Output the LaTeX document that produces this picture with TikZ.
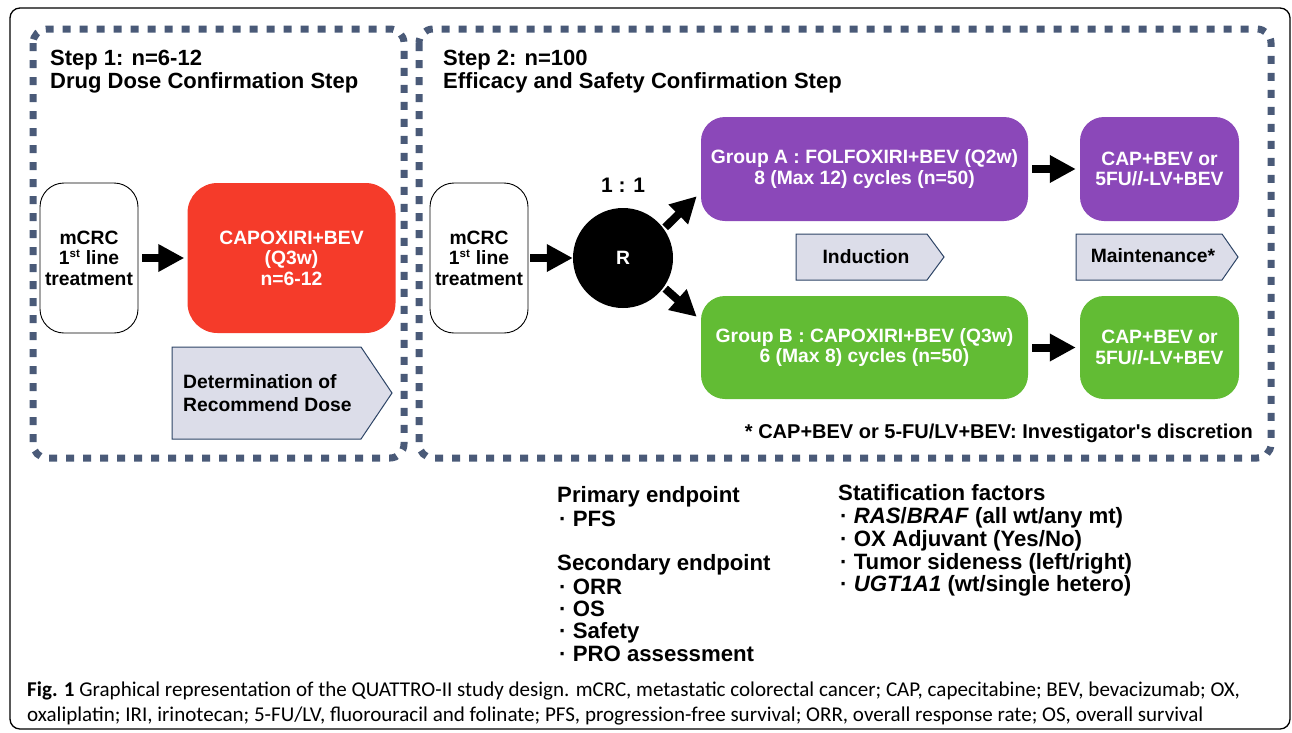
\documentclass[tikz,border=0pt]{standalone}
\usepackage{fontspec}
\setmainfont{Liberation Sans}
\newfontfamily\capfont{Carlito}
\usetikzlibrary{arrows.meta,calc}
\definecolor{dashc}{RGB}{74,90,120}
\definecolor{redc}{RGB}{245,59,42}
\definecolor{purc}{RGB}{139,72,185}
\definecolor{grnc}{RGB}{98,188,52}
\definecolor{lavc}{RGB}{220,221,233}
\definecolor{lavb}{RGB}{45,68,102}
\newcommand\mysts{\textsuperscript{\fontsize{11.5}{11.5}\selectfont st}}
\begin{document}
\begin{tikzpicture}[x=1pt,y=-1pt,
  frame/.style={draw=black,line width=1.3pt,rounded corners=10pt},
  dashbox/.style={draw=dashc,line width=7pt,dash pattern=on 8pt off 9pt,rounded corners=14pt},
  boxfont/.style={font=\fontsize{19.3}{20.5}\selectfont\bfseries},
  whitebox/.style={boxfont,draw=black,line width=0.9pt,fill=white,rounded corners=24pt,
     minimum width=98pt,minimum height=150pt,align=center,inner sep=0pt},
  colbox/.style={boxfont,text=white,rounded corners=24pt,align=center,inner sep=0pt},
  pent/.style={draw=lavb,fill=lavc,line width=1pt},
  blk/.style={line width=8pt,-{Triangle[length=26pt,width=26pt]}},
  steptext/.style={anchor=base west,font=\fontsize{22}{23}\selectfont\bfseries,inner sep=0pt},
  lowtext/.style={anchor=base west,font=\fontsize{22.2}{23}\selectfont\bfseries,inner sep=0pt},
  captext/.style={anchor=base west,font=\capfont\fontsize{21.05}{24}\selectfont,inner sep=0pt}
]
\useasboundingbox (0,0) rectangle (1292,732);
% outer frame
\draw[frame] (10,8) rectangle (1290,729);
% dashed step boxes
\draw[dashbox] (33,29) rectangle (404,458);
\draw[dashbox] (419,29) rectangle (1271,458);
% step titles
\node[steptext] (s1a) at (50,65) {Step 1: n=6-12};
\node[steptext] (s1b) at (50,88) {Drug Dose Confirmation Step};
\node[steptext] (s2a) at (443,65) {Step 2: n=100};
\node[steptext] (s2b) at (443,88) {Efficacy and Safety Confirmation Step};
% step 1
\node[whitebox] (m1) at (89,258) {mCRC\\1\mysts\ line\\treatment};
\node[colbox,fill=redc,minimum width=208pt,minimum height=150pt,rounded corners=30pt] (cap) at (291.5,258) {CAPOXIRI+BEV\\(Q3w)\\n=6-12};
\draw[blk] ([xshift=4pt]m1.east) -- ([xshift=-3pt]cap.west);
\draw[pent] (172,347) -- (361,347) -- (392,393) -- (361,439) -- (172,439) -- cycle;
\node[anchor=west,align=left,font=\fontsize{19.3}{23}\selectfont\bfseries,inner sep=0pt] (det) at (183,393) {Determination of\\Recommend Dose};
% step 2
\node[whitebox] (m2) at (479,258) {mCRC\\1\mysts\ line\\treatment};
\node[circle,fill=black,minimum size=100pt,inner sep=0pt,text=white,boxfont] (R) at (623,258) {R};
\node[font=\fontsize{21}{23}\selectfont\bfseries,inner sep=0pt] (ratio) at (623,185) {1 : 1};
\draw[blk] ([xshift=2pt]m2.east) -- (R.west);
\node[colbox,fill=purc,minimum width=327pt,minimum height=104pt] (gA) at (864.5,169) {Group A : FOLFOXIRI+BEV (Q2w)\\8 (Max 12) cycles (n=50)};
\node[colbox,fill=purc,minimum width=159pt,minimum height=104pt] (mA) at (1159.5,169) {CAP+BEV or\\5FU/\textit{l}-LV+BEV};
\node[colbox,fill=grnc,minimum width=327pt,minimum height=103pt] (gB) at (864.5,347.5) {Group B : CAPOXIRI+BEV (Q3w)\\6 (Max 8) cycles (n=50)};
\node[colbox,fill=grnc,minimum width=159pt,minimum height=103pt] (mB) at (1159.5,347.5) {CAP+BEV or\\5FU/\textit{l}-LV+BEV};
\coordinate (tA) at ($(gA.south west)+(-4,-25)$);
\coordinate (tB) at ($(gB.north west)+(-4,21)$);
\draw[blk] ($(R.center)!1.04!(R.36)$) -- (tA);
\draw[blk] ($(R.center)!1.04!(R.-36)$) -- (tB);
\draw[blk] ([xshift=4pt]gA.east) -- ([xshift=-4pt]mA.west);
\draw[blk] ([xshift=4pt]gB.east) -- ([xshift=-4pt]mB.west);
% phase labels
\draw[pent] (796,234) -- (927,234) -- (944,257) -- (927,280) -- (796,280) -- cycle;
\node[boxfont,inner sep=0pt] (ind) at (866,257) {Induction};
\draw[pent] (1076,234) -- (1222,234) -- (1238,257) -- (1222,280) -- (1076,280) -- cycle;
\node[boxfont,inner sep=0pt] (mnt) at (1153,256) {Maintenance*};
% footnote
\node[anchor=base east,font=\fontsize{20}{20}\selectfont\bfseries,inner sep=0pt] (fn) at (1253,438) {* CAP+BEV or 5-FU/LV+BEV: Investigator\textquotesingle s discretion};
% endpoints
\node[lowtext] (p0) at (557,502) {Primary endpoint};
\node[lowtext] (p1) at (559,526) {· PFS};
\node[lowtext] (q0) at (557,570) {Secondary endpoint};
\node[lowtext] (q1) at (559,594) {· ORR};
\node[lowtext] (q2) at (559,616) {· OS};
\node[lowtext] (q3) at (559,638) {· Safety};
\node[lowtext] (q4) at (559,661) {· PRO assessment};
\node[lowtext] (f0) at (838,500) {Statification factors};
\node[lowtext] (f1) at (840,523) {· \textit{RAS}/\textit{BRAF} (all wt/any mt)};
\node[lowtext] (f2) at (840,546) {· OX Adjuvant (Yes/No)};
\node[lowtext] (f3) at (840,569) {· Tumor sideness (left/right)};
\node[lowtext] (f4) at (840,591) {· \textit{UGT1A1} (wt/single hetero)};
% caption
\node[captext] (c1) at (27,696) {\textbf{Fig. 1} Graphical representation of the QUATTRO-II study design. mCRC, metastatic colorectal cancer; CAP, capecitabine; BEV, bevacizumab; OX,};
\node[captext] (c2) at (27,721) {oxaliplatin; IRI, irinotecan; 5-FU/LV, fluorouracil and folinate; PFS, progression-free survival; ORR, overall response rate; OS, overall survival};
\end{tikzpicture}
\end{document}
